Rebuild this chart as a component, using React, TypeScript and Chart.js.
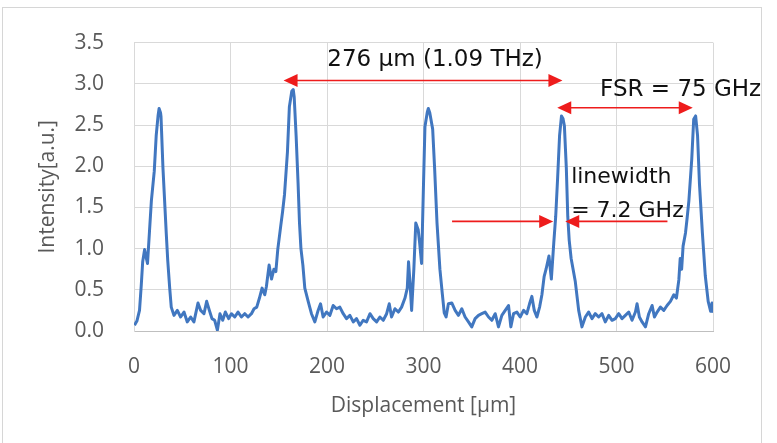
import React, { useEffect, useRef } from "react";
import { Chart, registerables } from "chart.js";

Chart.register(...registerables);

// Displacement [µm]
const displacement: number[] = [
  0.5, 3, 5.7, 7.5, 9, 11, 12.5, 14, 16, 18, 21, 23, 25, 26, 27.5, 28, 30, 33.4, 35, 37,
  38.6, 41.4, 44.9, 48.3, 51.8, 55.2, 58.7, 62.1, 66.3, 69.1, 72.5, 75.3, 78.1, 80.8, 83.6, 86.4,
  89.1, 91.9, 94.7, 98.1, 100.9, 104.4, 107.8, 111.3, 114.7, 118.2, 121.7, 124.4, 127.2, 130,
  132.7, 135.5, 137.2,
  140, 142.5, 145, 147, 149, 152, 154, 156, 159, 161, 163.5, 165, 166, 168, 170, 171.5, 173, 175,
  177, 180.5, 183.9, 187.4, 190.8, 193.3, 196, 199.5, 203, 206.4, 209.9, 213.3, 216.8, 220.2,
  223.7, 227.2, 230.6, 234.1, 237.5, 241, 244.5, 247.9, 251.4, 254.8, 258.3, 261.8, 264.5, 266.9,
  270.4, 273.9, 277.3, 280.8, 283.2,
  284.5, 286, 287.7, 290, 292, 294.5, 296, 298, 300, 301.5, 304, 305, 306.5, 309.5, 311.5, 314,
  317, 319.5, 321.5, 323.4, 325.8, 329.3, 332.8, 336.2, 339.7, 343.1, 346.6, 350, 353.5, 357,
  360.4, 363.9, 367.4, 370.8, 374.3, 377.7, 381.2, 384.7, 388.1, 390.5, 393.3, 396.8, 400.2,
  403.7, 407.1, 409.9, 412.3, 414.8, 417.5, 420.3, 422.7,
  425, 427, 430, 432.5, 435, 437, 439, 441, 443, 444.5, 446, 448, 449.5, 451, 453,
  457.3, 460.8, 464.2, 467.7, 471.1, 474.6, 478, 481.5, 485, 488.4, 491.9, 495.4, 498.8, 502.3,
  505.7, 509.2, 512.7, 516.1, 519.6, 521.3, 523.7, 526.5, 530, 533.4, 536.9, 539.3, 542.1, 545.5,
  549, 552.4, 555.9, 559.4, 562.1,
  564.6, 566, 567.5, 569, 571.5, 573, 575, 578, 580, 582, 584, 586, 589, 592, 595, 597.5, 599, 600,
];

// Intensity [a.u.]
const intensity: number[] = [
  0.07, 0.12, 0.25, 0.55, 0.84, 0.99, 0.9, 0.82, 1.2, 1.58, 1.94, 2.37, 2.62, 2.7, 2.65, 2.6, 1.98,
  1.19, 0.85, 0.52,
  0.29, 0.19, 0.25, 0.17, 0.23, 0.11, 0.17, 0.11, 0.34, 0.25, 0.21, 0.36, 0.25, 0.15, 0.13, 0.01,
  0.21, 0.13, 0.23, 0.15, 0.21, 0.17, 0.23, 0.17, 0.21, 0.17, 0.21, 0.27, 0.29, 0.4,
  0.52, 0.44, 0.54,
  0.8, 0.63, 0.75, 0.72, 0.99, 1.27, 1.45, 1.66, 2.17, 2.72, 2.91, 2.93, 2.84, 2.37, 1.8, 1.31, 1.0,
  0.8,
  0.52, 0.36, 0.21, 0.11, 0.25, 0.33, 0.17, 0.23, 0.19, 0.31, 0.27, 0.29, 0.21, 0.15,
  0.19, 0.11, 0.15, 0.07, 0.13, 0.11, 0.21, 0.15, 0.11, 0.17, 0.13, 0.21, 0.33, 0.17,
  0.27, 0.23, 0.29, 0.4, 0.52,
  0.84, 0.59, 0.25, 0.75, 1.31, 1.23, 1.07, 0.82, 1.78, 2.48, 2.66, 2.7, 2.65, 2.45, 1.98, 1.31,
  0.75, 0.45, 0.22, 0.17, 0.33, 0.34, 0.25, 0.19, 0.27, 0.17, 0.11, 0.05, 0.15, 0.19,
  0.21, 0.23, 0.17, 0.13, 0.21, 0.05, 0.19, 0.25, 0.31, 0.05, 0.21, 0.23, 0.17,
  0.25, 0.21, 0.33, 0.42, 0.25, 0.17, 0.29, 0.44,
  0.66, 0.75, 0.91, 0.63, 1.07, 1.39, 1.86, 2.37, 2.61, 2.58, 2.49, 1.98, 1.39, 1.1, 0.88,
  0.6, 0.25, 0.05, 0.17, 0.23, 0.15, 0.21, 0.17, 0.21, 0.11, 0.19, 0.13, 0.15, 0.21,
  0.15, 0.19, 0.23, 0.13, 0.23, 0.33, 0.17, 0.11, 0.05, 0.21, 0.31, 0.17, 0.23, 0.29,
  0.25, 0.31, 0.36, 0.44, 0.4,
  0.62, 0.88, 0.75, 1.03, 1.19, 1.35, 1.58, 2.09, 2.57, 2.61, 2.37, 1.78, 1.19, 0.67, 0.36, 0.24,
  0.34, 0.22,
];

const xTickValues: number[] = [0, 100, 200, 300, 400, 500, 600];
const yTickValues: number[] = [0, 0.5, 1.0, 1.5, 2.0, 2.5, 3.0, 3.5];

// Annotation labels
const spanLabel = "276 \u03bcm (1.09 THz)";
const fsrLabel = "FSR = 75 GHz";
const linewidthLabel1 = "linewidth";
const linewidthLabel2 = "= 7.2 GHz";

// Annotation anchors in data coordinates
const spanArrow = { x1: 155, x2: 444, y: 3.04 };
const fsrArrow = { x1: 438.6, x2: 579, y: 2.71 };
const lwArrowLeft = { x1: 329.6, x2: 434.4, y: 1.33 };
const lwArrowRight = { x1: 552.8, x2: 446.9, y: 1.33 };

const GREY = "#595959";
const RED = "#ee1c1c";

function drawHead(ctx: CanvasRenderingContext2D, tipX: number, y: number, dir: number) {
  const len = 14;
  const half = 6.5;
  ctx.beginPath();
  ctx.moveTo(tipX, y);
  ctx.lineTo(tipX - dir * len, y - half);
  ctx.lineTo(tipX - dir * len, y + half);
  ctx.closePath();
  ctx.fill();
}

function drawArrow(
  ctx: CanvasRenderingContext2D,
  x1: number,
  x2: number,
  y: number,
  headStart: boolean,
  headEnd: boolean
) {
  const dir = x2 > x1 ? 1 : -1;
  ctx.beginPath();
  ctx.moveTo(headStart ? x1 + dir * 10 : x1, y);
  ctx.lineTo(headEnd ? x2 - dir * 10 : x2, y);
  ctx.stroke();
  if (headEnd) drawHead(ctx, x2, y, dir);
  if (headStart) drawHead(ctx, x1, y, -dir);
}

const annotationPlugin = {
  id: "fsrAnnotations",
  afterDatasetsDraw(chart: any) {
    const { ctx } = chart;
    const xs = chart.scales.x;
    const ys = chart.scales.y;
    const px = (v: number) => xs.getPixelForValue(v);
    const py = (v: number) => ys.getPixelForValue(v);
    ctx.save();
    ctx.strokeStyle = RED;
    ctx.fillStyle = RED;
    ctx.lineWidth = 1.6;
    drawArrow(ctx, px(spanArrow.x1), px(spanArrow.x2), py(spanArrow.y), true, true);
    drawArrow(ctx, px(fsrArrow.x1), px(fsrArrow.x2), py(fsrArrow.y), true, true);
    drawArrow(ctx, px(lwArrowLeft.x1), px(lwArrowLeft.x2), py(lwArrowLeft.y), false, true);
    drawArrow(ctx, px(lwArrowRight.x1), px(lwArrowRight.x2), py(lwArrowRight.y), false, true);

    ctx.fillStyle = "#111111";
    ctx.font = "23px 'DejaVu Sans'";
    ctx.textBaseline = "middle";
    ctx.textAlign = "center";
    ctx.fillText(spanLabel, px(312), py(3.29));
    ctx.textAlign = "left";
    ctx.fillText(fsrLabel, px(483), py(2.93));
    ctx.font = "22px 'DejaVu Sans'";
    ctx.fillText(linewidthLabel1, px(453), py(1.86));
    ctx.fillText(linewidthLabel2, px(453), py(1.45));
    ctx.restore();
  },
};

export default function App() {
  const canvasRef = useRef<HTMLCanvasElement | null>(null);

  useEffect(() => {
    if (!canvasRef.current) return;
    const points = displacement.map((d, i) => ({ x: d, y: intensity[i] }));
    const chart = new Chart(canvasRef.current, {
      type: "scatter",
      data: {
        datasets: [
          {
            data: points,
            showLine: true,
            borderColor: "#4177c0",
            borderWidth: 3,
            borderJoinStyle: "round",
            pointRadius: 0,
            tension: 0,
            fill: false,
          },
        ],
      },
      options: {
        responsive: false,
        animation: false,
        events: [],
        layout: { padding: { left: 0, right: 64, top: 34, bottom: 0 } },
        plugins: {
          legend: { display: false },
          tooltip: { enabled: false },
        },
        scales: {
          x: {
            type: "linear",
            min: 0,
            max: 600,
            afterBuildTicks: (axis: any) => {
              axis.ticks = xTickValues.map((v) => ({ value: v }));
            },
            afterFit: (axis: any) => {
              axis.height = 112;
            },
            ticks: {
              color: GREY,
              padding: 23,
              font: { family: "'Open Sans'", size: 21 },
              maxRotation: 0,
              callback: (v: any) => String(v),
            },
            grid: { color: "#d9d9d9", lineWidth: 1, drawTicks: false },
            border: { color: "#bfbfbf", width: 1 },
            title: {
              display: true,
              text: "Displacement [\u03bcm]",
              color: GREY,
              font: { family: "'Open Sans'", size: 21 },
              padding: { top: 0, bottom: 24 },
            },
          },
          y: {
            min: 0,
            max: 3.5,
            afterBuildTicks: (axis: any) => {
              axis.ticks = yTickValues.map((v) => ({ value: v }));
            },
            afterFit: (axis: any) => {
              axis.width = 134;
            },
            ticks: {
              color: GREY,
              padding: 30,
              font: { family: "'Open Sans'", size: 21 },
              callback: (v: any) => Number(v).toFixed(1),
            },
            grid: { color: "#d9d9d9", lineWidth: 1, drawTicks: false },
            border: { color: "#d9d9d9", width: 1 },
            title: {
              display: true,
              text: "Intensity[a.u.]",
              color: GREY,
              font: { family: "'Open Sans'", size: 21 },
              padding: { top: 35, bottom: 0 },
            },
          },
        },
      },
      plugins: [annotationPlugin],
    });
    return () => chart.destroy();
  }, []);

  return (
    <div
      style={{
        position: "fixed",
        left: 0,
        top: 0,
        width: 777,
        height: 443,
        background: "#ffffff",
        overflow: "hidden",
      }}
    >
      <div
        style={{
          position: "absolute",
          left: 2,
          top: 7,
          width: 758,
          height: 460,
          border: "1.5px solid #d6d6d6",
        }}
      />
      <canvas
        ref={canvasRef}
        width={777}
        height={443}
        style={{ position: "absolute", left: 0, top: 0, width: 777, height: 443 }}
      />
    </div>
  );
}
